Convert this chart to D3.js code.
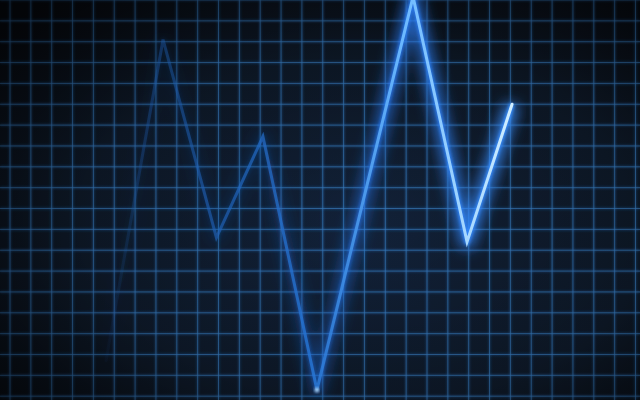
<!DOCTYPE html>
<html><head><meta charset="utf-8">
<script src="https://cdn.jsdelivr.net/npm/d3@7"></script>
<style>html,body{margin:0;padding:0;background:#0b1420;overflow:hidden}</style>
</head><body>
<svg id="chart" width="640" height="400"></svg>
<script>
// Data (grid units)
const xValues = [4.6, 7.34, 9.9, 12.13, 14.72, 19.33, 21.92, 24.08];
const yValues = [1.7, 17.1, 7.6, 12.45, 0.3, 19.15, 7.4, 14.0];
const xGridTicks = d3.range(0, 31);
const yGridTicks = d3.range(0, 20);

const W = 640, H = 400;
const svg = d3.select("#chart");
const x = d3.scaleLinear().domain([0, 30]).range([10, 10 + 30 * 20.85]);
const y = d3.scaleLinear().domain([0, 19]).range([396.2, 0]);

const defs = svg.append("defs");
const bg = defs.append("radialGradient").attr("id", "bg").attr("cx", "55%").attr("cy", "60%").attr("r", "75%");
bg.append("stop").attr("offset", "0%").attr("stop-color", "#12223a");
bg.append("stop").attr("offset", "60%").attr("stop-color", "#0e1928");
bg.append("stop").attr("offset", "100%").attr("stop-color", "#080c13");

const vig = defs.append("radialGradient").attr("id", "vig").attr("cx", "58%").attr("cy", "55%").attr("r", "80%");
vig.append("stop").attr("offset", "0%").attr("stop-color", "#000").attr("stop-opacity", 0);
vig.append("stop").attr("offset", "55%").attr("stop-color", "#000").attr("stop-opacity", 0.15);
vig.append("stop").attr("offset", "100%").attr("stop-color", "#000").attr("stop-opacity", 0.65);

const lg = defs.append("linearGradient").attr("id", "lineGrad").attr("gradientUnits", "userSpaceOnUse")
  .attr("x1", 100).attr("y1", 0).attr("x2", 520).attr("y2", 0);
[[0, "#1a4f95", 0.0], [0.1, "#1d55a0", 0.35], [0.25, "#2060b5", 0.6], [0.5, "#2675d5", 0.8], [0.72, "#6ab8ff", 1], [1, "#d8f2ff", 1]]
  .forEach(([o, c, op]) => lg.append("stop").attr("offset", o).attr("stop-color", c).attr("stop-opacity", op));

const glowGrad = defs.append("linearGradient").attr("id", "glowGrad").attr("gradientUnits", "userSpaceOnUse")
  .attr("x1", 100).attr("y1", 0).attr("x2", 520).attr("y2", 0);
[[0, "#1f5fd0", 0], [0.4, "#1f6ae0", 0.15], [0.7, "#2a80ff", 0.65], [1, "#3a90ff", 0.9]]
  .forEach(([o, c, op]) => glowGrad.append("stop").attr("offset", o).attr("stop-color", c).attr("stop-opacity", op));

const blur1 = defs.append("filter").attr("id", "blurBig").attr("x", "-20%").attr("y", "-20%").attr("width", "140%").attr("height", "140%");
blur1.append("feGaussianBlur").attr("stdDeviation", 7);
const blur2 = defs.append("filter").attr("id", "blurSmall").attr("x", "-20%").attr("y", "-20%").attr("width", "140%").attr("height", "140%");
blur2.append("feGaussianBlur").attr("stdDeviation", 1.6);
const blur3 = defs.append("filter").attr("id", "blurGrid");
blur3.append("feGaussianBlur").attr("stdDeviation", 1.2);

svg.append("rect").attr("width", W).attr("height", H).attr("fill", "url(#bg)");

// grid
const grid = svg.append("g");
function drawGrid(g, color, width, op) {
  g.selectAll(".v").data(xGridTicks).join("line").attr("class", "v")
    .attr("x1", d => x(d)).attr("x2", d => x(d)).attr("y1", 0).attr("y2", H)
    .attr("stroke", color).attr("stroke-width", width).attr("opacity", op);
  g.selectAll(".h").data(yGridTicks).join("line").attr("class", "h")
    .attr("x1", 0).attr("x2", W).attr("y1", d => y(d)).attr("y2", d => y(d))
    .attr("stroke", color).attr("stroke-width", width).attr("opacity", op);
}
drawGrid(grid.append("g").attr("filter", "url(#blurGrid)"), "#2a6cb8", 2.5, 0.35);
drawGrid(grid.append("g"), "#3a7fc0", 1, 0.65);

// vignette
svg.append("rect").attr("width", W).attr("height", H).attr("fill", "url(#vig)");

const pts = xValues.map((v, i) => [v, yValues[i]]);
const line = d3.line().x(d => x(d[0])).y(d => y(d[1]));

svg.append("path").attr("d", line(pts)).attr("fill", "none").attr("stroke", "url(#glowGrad)")
  .attr("stroke-width", 14).attr("stroke-linejoin", "round").attr("filter", "url(#blurBig)");
svg.append("path").attr("d", line(pts)).attr("fill", "none").attr("stroke", "url(#glowGrad)")
  .attr("stroke-width", 6).attr("stroke-linejoin", "round").attr("filter", "url(#blurSmall)");
svg.append("path").attr("d", line(pts)).attr("fill", "none").attr("stroke", "url(#lineGrad)")
  .attr("stroke-width", 3).attr("stroke-linejoin", "miter").attr("stroke-linecap", "round");

// bright trough spot
svg.append("circle").attr("cx", x(xValues[4])).attr("cy", y(yValues[4])).attr("r", 2.2)
  .attr("fill", "#bfe6ff").attr("filter", "url(#blurSmall)");
</script>
</body></html>
